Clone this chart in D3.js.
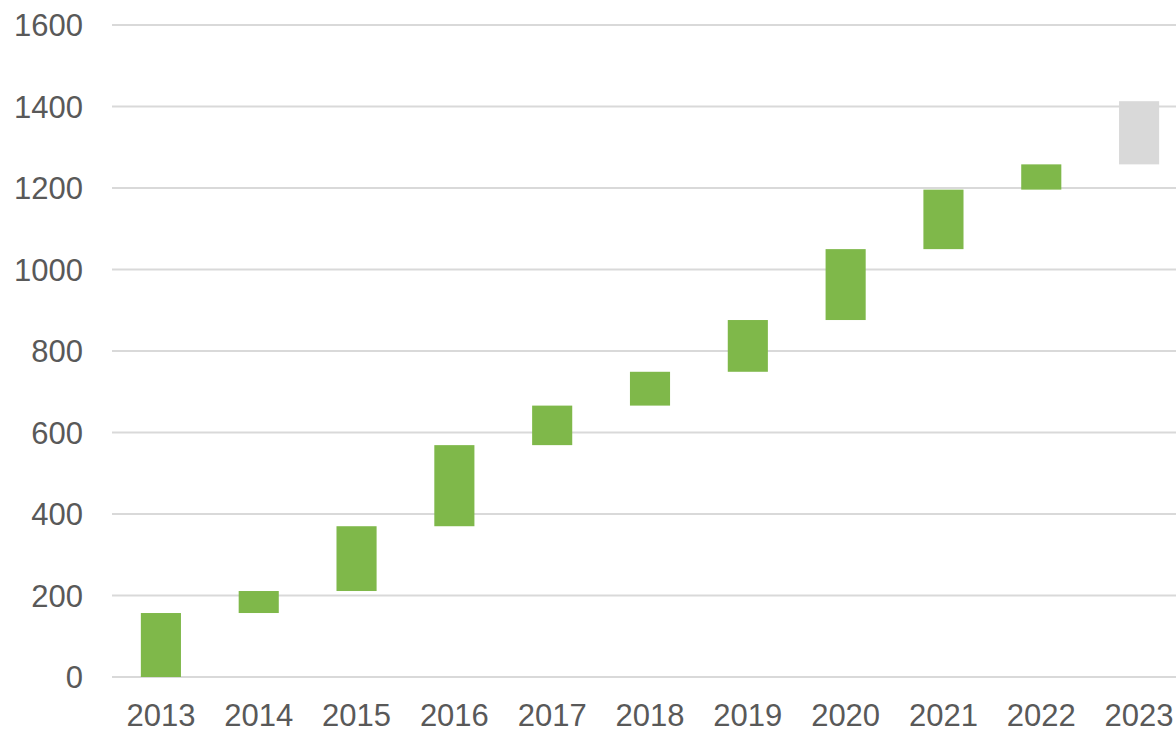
<!DOCTYPE html>
<html><head><meta charset="utf-8">
<script src="https://cdn.jsdelivr.net/npm/d3@7"></script>
<style>body{margin:0;background:#fff;overflow:hidden}svg{display:block}</style>
</head><body>
<svg id="c" width="1176" height="729"></svg>
<script>
const categories = ["2013","2014","2015","2016","2017","2018","2019","2020","2021","2022","2023"];
const deltas = [157, 54, 159, 199, 97, 83, 127, 174, 146, 62, 155];
const kinds = ["g","g","g","g","g","g","g","g","g","g","e"];
const yTicks = [0,200,400,600,800,1000,1200,1400,1600];

const svg = d3.select("#c");
const x = d3.scaleBand().domain(categories).range([112, 1188]).paddingInner(0.59).paddingOuter(0.295);
const y = d3.scaleLinear().domain([0,1600]).range([677, 25]);

let cum = 0;
const bars = categories.map((c,i)=>{ const s=cum; cum+=deltas[i]; return {c, s, e:cum, k:kinds[i]}; });

svg.append("g").selectAll("line").data(yTicks).join("line")
  .attr("x1",112).attr("x2",1188).attr("y1",d=>y(d)).attr("y2",d=>y(d))
  .attr("stroke","#d9d9d9").attr("stroke-width",2);

svg.append("g").selectAll("text").data(yTicks).join("text")
  .attr("x",83).attr("y",d=>y(d)).attr("dy","0.36em").attr("text-anchor","end")
  .attr("font-family","Liberation Sans, Arial, sans-serif").attr("font-size",31).attr("fill","#595959")
  .text(d=>d);

svg.append("g").selectAll("rect").data(bars).join("rect")
  .attr("x",d=>x(d.c)).attr("width",x.bandwidth())
  .attr("y",d=>y(d.e)).attr("height",d=>y(d.s)-y(d.e))
  .attr("fill",d=>d.k==="g"?"#7fb84a":"#d9d9d9");

svg.append("g").selectAll("text").data(categories).join("text")
  .attr("x",d=>x(d)+x.bandwidth()/2).attr("y",726).attr("text-anchor","middle")
  .attr("font-family","Liberation Sans, Arial, sans-serif").attr("font-size",31).attr("fill","#595959")
  .text(d=>d);
</script>
</body></html>
